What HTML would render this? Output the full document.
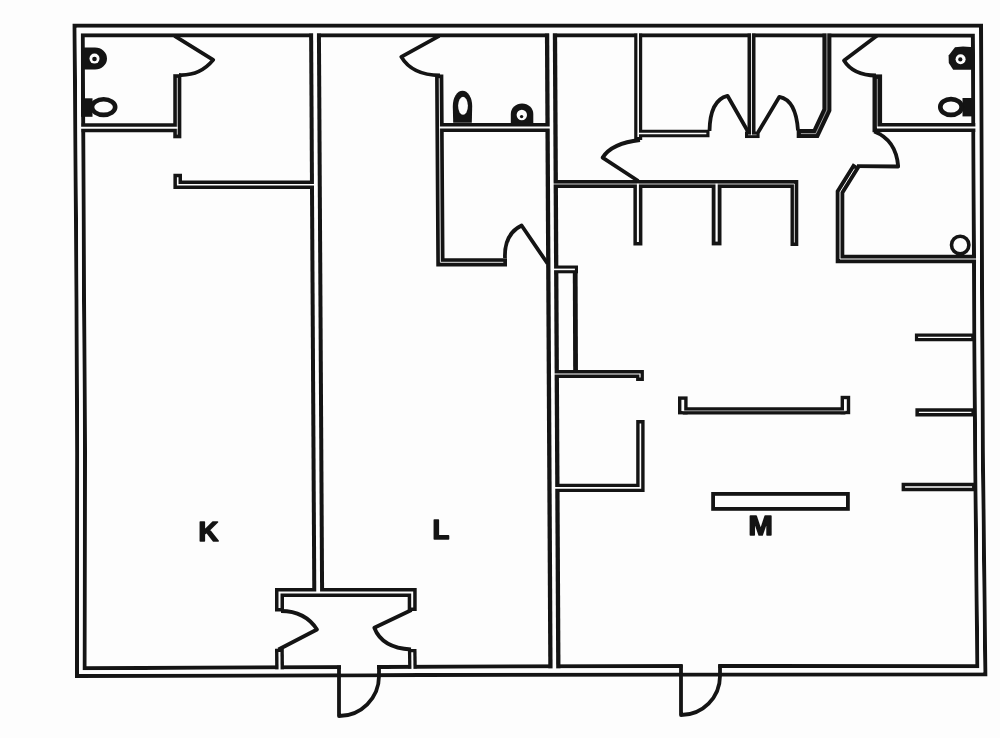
<!DOCTYPE html>
<html><head><meta charset="utf-8"><title>Floor plan</title>
<style>html,body{margin:0;padding:0;background:#fdfdfd;}body{width:1000px;height:738px;overflow:hidden;font-family:"Liberation Sans",sans-serif;}svg{display:block;will-change:transform;}text{-webkit-font-smoothing:antialiased;}</style>
</head><body>
<svg width="1000" height="738" viewBox="0 0 1000 738">
<rect width="1000" height="738" fill="#fdfdfd"/>
<g fill="none" stroke="#141414" stroke-linejoin="miter" stroke-miterlimit="10">
<path d="M74.60,25.70 L981.00,25.80 L982.20,337.00 L982.80,452.00 L985.30,674.30 L700.00,674.40 L77.00,675.90 L77.20,452.00 L76.60,300.00 Z" stroke-width="4.0"/>
<path d="M82.70,35.20 L972.90,35.40 L974.40,337.00 L975.20,452.00 L977.40,666.20 L700.00,665.90 L84.50,668.20 L85.00,452.00 L84.00,300.00 Z" stroke-width="4.0"/>
<polyline points="79.25,127.75 177.30,127.75" stroke-width="9.00"/>
<polyline points="177.30,74.20 177.30,138.30" stroke-width="8.10"/>
<polyline points="177.70,173.70 177.70,184.80 315.86,184.80" stroke-width="8.60"/>
<polyline points="315.00,30.49 318.20,592.40" stroke-width="11.80"/>
<polyline points="279.50,611.50 279.50,592.40 412.20,592.40 412.20,611.00" stroke-width="9.00"/>
<polyline points="279.40,648.60 279.60,671.44" stroke-width="8.80"/>
<polyline points="412.20,649.00 412.50,671.03" stroke-width="8.60"/>
<polyline points="439.20,74.50 440.40,262.30 507.00,262.30" stroke-width="8.30"/>
<polyline points="439.60,127.50 551.50,127.50" stroke-width="9.00"/>
<polyline points="551.00,30.53 554.40,670.60" stroke-width="12.20"/>
<polyline points="552.26,269.40 578.00,269.40" stroke-width="7.80"/>
<polyline points="552.82,374.00 640.00,374.00 640.00,380.90" stroke-width="7.80"/>
<polyline points="640.40,420.00 640.40,487.90 553.44,487.90" stroke-width="8.40"/>
<polyline points="638.20,30.54 638.20,140.10" stroke-width="8.00"/>
<polyline points="638.20,133.50 709.50,133.50" stroke-width="7.70"/>
<polyline points="551.80,184.00 794.40,184.00 794.40,246.00" stroke-width="7.80"/>
<polyline points="637.90,184.00 637.90,245.50" stroke-width="9.00"/>
<polyline points="716.60,184.00 716.60,245.40" stroke-width="9.80"/>
<polyline points="751.50,30.56 751.50,134.80" stroke-width="8.00"/>
<polyline points="745.00,134.80 759.60,134.80" stroke-width="6.50"/>
<polyline points="826.90,30.58 826.90,110.00 815.80,133.60 796.70,133.60" stroke-width="9.00"/>
<polyline points="877.30,74.40 877.30,132.20" stroke-width="9.60"/>
<polyline points="877.30,127.60 977.38,127.60" stroke-width="9.00"/>
<polyline points="856.50,165.50 840.00,192.00 840.00,259.00 977.96,259.00" stroke-width="8.60"/>
<polyline points="914.90,337.40 974.40,337.40" stroke-width="7.80"/>
<polyline points="915.40,412.40 974.92,412.40" stroke-width="8.40"/>
<polyline points="901.60,487.00 975.56,487.00" stroke-width="8.40"/>
<polyline points="682.80,410.80 845.40,410.80" stroke-width="7.20"/>
<polyline points="682.80,396.40 682.80,414.40" stroke-width="9.60"/>
<polyline points="845.40,395.80 845.40,414.20" stroke-width="9.60"/>
<line x1="575.2" y1="271" x2="575.6" y2="375" stroke-width="4.8"/>
</g>
<g fill="none" stroke="#fdfdfd" stroke-linejoin="miter" stroke-miterlimit="10">
<path d="M76.60,27.70 L979.00,27.80 L980.20,337.00 L980.80,452.00 L983.30,672.30 L700.00,672.40 L79.00,673.90 L79.20,452.00 L78.60,300.00 Z M80.70,33.20 L974.90,33.40 L976.40,337.00 L977.20,452.00 L979.40,668.20 L700.00,667.90 L82.50,670.20 L83.00,452.00 L82.00,300.00 Z" fill="#fdfdfd" fill-rule="evenodd" stroke="none"/>
<polyline points="78.95,127.75 177.60,127.75" stroke-width="2.20"/>
<polyline points="177.30,77.85 177.30,134.65" stroke-width="0.80"/>
<polyline points="177.70,177.20 177.70,184.80 316.16,184.80" stroke-width="1.60"/>
<polyline points="315.00,30.19 318.20,592.70" stroke-width="3.80"/>
<polyline points="279.50,608.00 279.50,592.40 412.20,592.40 412.20,607.50" stroke-width="2.00"/>
<polyline points="279.43,652.00 279.60,671.74" stroke-width="2.00"/>
<polyline points="412.24,652.30 412.50,671.33" stroke-width="2.00"/>
<polyline points="439.22,78.20 440.40,262.30 503.30,262.30" stroke-width="0.90"/>
<polyline points="439.30,127.50 551.80,127.50" stroke-width="2.00"/>
<polyline points="551.00,30.23 554.40,670.90" stroke-width="3.60"/>
<polyline points="551.96,269.40 574.90,269.40" stroke-width="1.60"/>
<polyline points="552.52,374.00 640.00,374.00 640.00,377.60" stroke-width="1.20"/>
<polyline points="640.40,423.40 640.40,487.90 553.14,487.90" stroke-width="1.60"/>
<polyline points="638.20,30.24 638.20,136.90" stroke-width="1.60"/>
<polyline points="637.90,133.50 706.35,133.50" stroke-width="1.40"/>
<polyline points="551.50,184.00 794.40,184.00 794.40,242.50" stroke-width="0.80"/>
<polyline points="637.90,183.70 637.90,242.00" stroke-width="2.00"/>
<polyline points="716.60,183.70 716.60,241.60" stroke-width="2.20"/>
<polyline points="751.50,30.26 751.50,135.10" stroke-width="0.90"/>
<polyline points="748.00,134.80 756.60,134.80" stroke-width="0.50"/>
<polyline points="826.90,30.28 826.90,110.00 815.80,133.60 800.90,133.60" stroke-width="0.60"/>
<polyline points="877.30,78.90 877.30,127.70" stroke-width="0.60"/>
<polyline points="877.00,127.60 977.68,127.60" stroke-width="2.00"/>
<polyline points="854.49,168.73 840.00,192.00 840.00,259.00 978.26,259.00" stroke-width="1.00"/>
<polyline points="918.10,337.40 971.20,337.40" stroke-width="1.40"/>
<polyline points="918.90,412.40 971.42,412.40" stroke-width="1.40"/>
<polyline points="905.10,487.00 972.06,487.00" stroke-width="1.40"/>
<polyline points="682.50,410.80 845.70,410.80" stroke-width="0.60"/>
<polyline points="682.80,399.80 682.80,411.00" stroke-width="2.80"/>
<polyline points="845.40,399.20 845.40,410.80" stroke-width="2.80"/>
</g>
<rect x="341" y="663.5" width="36" height="9.8" fill="#fdfdfd"/>
<rect x="682.5" y="662.5" width="35.8" height="9.6" fill="#fdfdfd"/>
<g stroke="#141414" fill="none" stroke-width="3.8" stroke-linecap="butt" stroke-linejoin="round">
<line x1="339" y1="665.5" x2="339" y2="676"/><line x1="379" y1="665.5" x2="379" y2="675.5"/>
<line x1="681" y1="664.5" x2="681" y2="675"/><line x1="720" y1="664.5" x2="720" y2="675"/>
<path d="M174.5,35.8 L213.2,59.9 Q200,76 179,75"/>
<path d="M439.3,35.8 L401.3,56.9 Q412,75 440,75.5"/>
<path d="M547.5,263.5 L521.6,225.5 Q504,234 505,258"/>
<path d="M640,140 Q612,143 602.6,157.6 L638.3,181"/>
<path d="M709.5,131 Q710,100 727.5,95.8 L748.5,132.5"/>
<path d="M758,132.5 L779.4,96.8 Q796,100 798,130.5"/>
<path d="M877.2,35.5 L844,60.4 Q853,75 876,75.5"/>
<path d="M874.2,131.6 Q896,140 898.2,166.5 L857,166.2"/>
<path d="M281,611 Q305,611 317,629.5 L278.5,649.5"/>
<path d="M411.5,610 L374.3,627.8 Q382,648 411,649.5"/>
<path d="M339,676 L339,716 A40,40 0 0 0 379,676"/>
<path d="M681,676 L681,715 A39,39 0 0 0 720,676"/>
</g>
<g fill="#141414">
<path d="M81,47.5 H95 A12,11.05 0 0 1 95,69.6 H81 Z"/>
<circle cx="94.5" cy="58.6" r="5" fill="#fdfdfd"/><circle cx="94.5" cy="59" r="2.3"/>
<rect x="81" y="98.3" width="11.5" height="18.5"/>
<path d="M510.8,124 V114 A11.25,10.5 0 0 1 533.3,114 V124 Z"/>
<circle cx="521.8" cy="115" r="5.2" fill="#fdfdfd"/><circle cx="521.6" cy="116.6" r="1.7"/>
<path d="M974,47.3 L963,46.6 L955,47.2 L948.6,55.5 L948.8,63 L953.2,69.8 L974,69.8 Z"/>
<circle cx="960.6" cy="59.2" r="5.0" fill="#fdfdfd"/><circle cx="960.3" cy="59.4" r="2.1"/>
<rect x="962.5" y="98" width="11.5" height="18.4"/>
<path d="M453.2,122.8 L452.8,106 A9.6,15.2 0 0 1 472.2,106 L471.8,122.8 Z"/>
<ellipse cx="463" cy="105.8" rx="4.9" ry="9" fill="#fdfdfd"/>
</g>
<g fill="none" stroke="#141414">
<ellipse cx="103.6" cy="107.05" rx="11.6" ry="7.8" stroke-width="4.6"/>
<ellipse cx="951" cy="107" rx="10.7" ry="7.9" stroke-width="4.7"/>
<circle cx="960.2" cy="245" r="8.7" stroke-width="3.6"/>
<rect x="713.1" y="493.9" width="134.8" height="15" stroke-width="3.8"/>
</g>
<g font-family="Liberation Sans, sans-serif" font-weight="bold" font-size="27.6" fill="#141414" stroke="#141414" stroke-width="1.6" stroke-linejoin="round" opacity="0.999">
<text x="198.4" y="541.0">K</text>
<text x="432.6" y="539.4">L</text>
<text x="748.6" y="535.0" textLength="24.3" lengthAdjust="spacingAndGlyphs">M</text>
</g>
</svg>
</body></html>
